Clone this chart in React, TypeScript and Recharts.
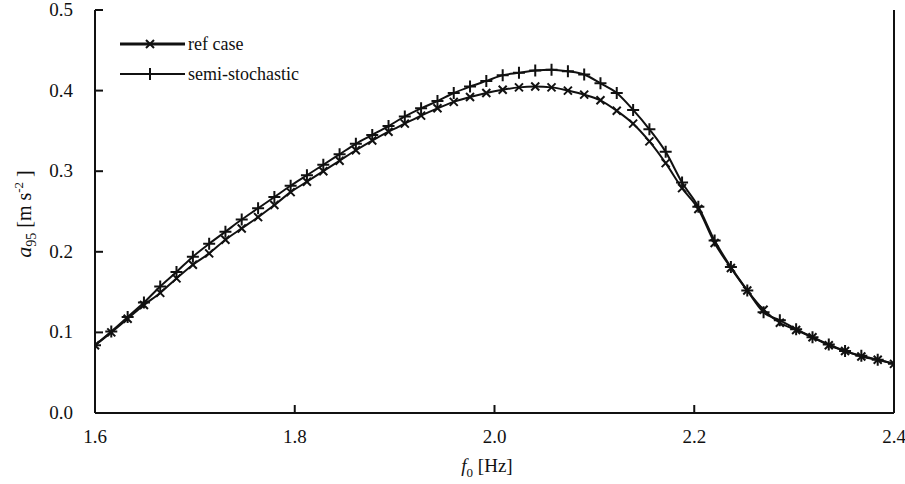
import React from 'react';
import { LineChart, Line, XAxis, YAxis, Label } from 'recharts';

// f0 grid [Hz], 50 steps between 1.6 and 2.4
const freqs = [
  1.6, 1.6163, 1.6327, 1.649, 1.6653, 1.6816, 1.698, 1.7143, 1.7306, 1.7469,
  1.7633, 1.7796, 1.7959, 1.8122, 1.8286, 1.8449, 1.8612, 1.8776, 1.8939, 1.9102,
  1.9265, 1.9429, 1.9592, 1.9755, 1.9918, 2.0082, 2.0245, 2.0408, 2.0571, 2.0735,
  2.0898, 2.1061, 2.1224, 2.1388, 2.1551, 2.1714, 2.1878, 2.2041, 2.2204, 2.2367,
  2.2531, 2.2694, 2.2857, 2.302, 2.3184, 2.3347, 2.351, 2.3673, 2.3837, 2.4,
];

// a95 [m s^-2]
const refCase = [
  0.084, 0.1, 0.117, 0.134, 0.149, 0.167, 0.184, 0.198, 0.215, 0.229,
  0.243, 0.258, 0.274, 0.287, 0.3, 0.313, 0.326, 0.338, 0.349, 0.359,
  0.369, 0.378, 0.386, 0.392, 0.397, 0.401, 0.404, 0.405, 0.404, 0.4,
  0.395, 0.388, 0.375, 0.359, 0.337, 0.31, 0.279, 0.253, 0.211, 0.18,
  0.152, 0.128, 0.112, 0.103, 0.094, 0.084, 0.077, 0.07, 0.066, 0.061,
];

const semiStochastic = [
  0.084, 0.101, 0.119, 0.137, 0.157, 0.175, 0.194, 0.21, 0.225, 0.24,
  0.254, 0.268, 0.282, 0.295, 0.308, 0.321, 0.334, 0.345, 0.356, 0.368,
  0.378, 0.387, 0.397, 0.405, 0.412, 0.419, 0.422, 0.425, 0.426, 0.424,
  0.42, 0.409, 0.397, 0.376, 0.352, 0.324, 0.286, 0.256, 0.214, 0.181,
  0.152, 0.125, 0.115, 0.104, 0.094, 0.085, 0.077, 0.071, 0.066, 0.061,
];

const xTicks = [1.6, 1.8, 2.0, 2.2, 2.4];
const yTicks = [0, 0.1, 0.2, 0.3, 0.4, 0.5];

const data = freqs.map((f, i) => ({ f, ref: refCase[i], semi: semiStochastic[i] }));

const FONT = '"Liberation Serif", "DejaVu Serif", serif';
const INK = '#111';

const CrossDot = (props: any) => {
  const { cx, cy, index } = props;
  if (cx == null || cy == null) return <g key={`x${index}`} />;
  const s = 4;
  return (
    <path
      key={`x${index}`}
      d={`M${cx - s},${cy - s}L${cx + s},${cy + s}M${cx - s},${cy + s}L${cx + s},${cy - s}`}
      stroke={INK}
      strokeWidth={2}
      fill="none"
    />
  );
};

const PlusDot = (props: any) => {
  const { cx, cy, index } = props;
  if (cx == null || cy == null) return <g key={`p${index}`} />;
  const s = 6;
  return (
    <path
      key={`p${index}`}
      d={`M${cx - s},${cy}L${cx + s},${cy}M${cx},${cy - s}L${cx},${cy + s}`}
      stroke={INK}
      strokeWidth={2}
      fill="none"
    />
  );
};

const BottomTick = (props: any) => {
  const { x, y, payload } = props;
  return (
    <g>
      <line x1={x} y1={y} x2={x} y2={y - 8} stroke={INK} strokeWidth={2} />
      <text x={x} y={y + 30} textAnchor="middle" fontFamily={FONT} fontSize={19} fill={INK}>
        {Number(payload.value).toFixed(1)}
      </text>
    </g>
  );
};

const LeftTick = (props: any) => {
  const { x, y, payload } = props;
  return (
    <g>
      <line x1={x} y1={y} x2={x + 8} y2={y} stroke={INK} strokeWidth={2} />
      <text x={x - 22} y={y + 6} textAnchor="end" fontFamily={FONT} fontSize={19} fill={INK}>
        {Number(payload.value).toFixed(1)}
      </text>
    </g>
  );
};

const RightTick = (props: any) => {
  const { x, y } = props;
  return <line x1={x} y1={y} x2={x - 8} y2={y} stroke={INK} strokeWidth={2} />;
};

const XLabel = () => (
  <text x={487} y={472} textAnchor="middle" fontFamily={FONT} fontSize={19} fill={INK}>
    <tspan fontStyle="italic">f</tspan>
    <tspan dy={5} fontSize={13}>0</tspan>
    <tspan dy={-5}> [Hz]</tspan>
  </text>
);

const YLabel = () => (
  <text
    x={0}
    y={0}
    transform="translate(31,214) rotate(-90)"
    textAnchor="middle"
    fontFamily={FONT}
    fontSize={20}
    fill={INK}
  >
    <tspan fontStyle="italic" fontSize={22}>a</tspan>
    <tspan dy={5} fontSize={14}>95</tspan>
    <tspan dy={-5}> [m s</tspan>
    <tspan dy={-8} fontSize={13}>-2</tspan>
    <tspan dy={8}> ]</tspan>
  </text>
);

const LegendBox = () => (
  <svg width={260} height={64} style={{ display: 'block' }}>
    <line x1={10} y1={16} x2={75} y2={16} stroke={INK} strokeWidth={3} />
    <path d="M36,12L44,20M36,20L44,12" stroke={INK} strokeWidth={2} />
    <text x={78} y={22} fontFamily={FONT} fontSize={18} fill={INK}>ref case</text>
    <line x1={10} y1={46} x2={75} y2={46} stroke={INK} strokeWidth={2} />
    <path d="M34,46L46,46M40,40L40,52" stroke={INK} strokeWidth={2} />
    <text x={78} y={52} fontFamily={FONT} fontSize={18} fill={INK}>semi-stochastic</text>
  </svg>
);

export default function App() {
  return (
    <div style={{ position: 'absolute', left: 0, top: 0, width: 905, height: 484, background: '#fff' }}>
      <LineChart width={905} height={484} data={data} margin={{ top: 10, right: 0, bottom: 0, left: 0 }}>
        <XAxis
          dataKey="f"
          type="number"
          domain={[1.6, 2.4]}
          ticks={xTicks}
          interval={0}
          height={71}
          tickSize={0}
          tickMargin={0}
          tickLine={false}
          tick={<BottomTick />}
          axisLine={{ stroke: INK, strokeWidth: 2 }}
          allowDataOverflow
        >
          <Label content={<XLabel />} />
        </XAxis>
        <XAxis
          xAxisId="top"
          orientation="top"
          dataKey="f"
          type="number"
          domain={[1.6, 2.4]}
          height={0}
          tick={false}
          tickLine={false}
          axisLine={{ stroke: INK, strokeWidth: 2 }}
        />
        <YAxis
          type="number"
          domain={[0, 0.5]}
          ticks={yTicks}
          interval={0}
          width={95}
          tickSize={0}
          tickMargin={0}
          tickLine={false}
          tick={<LeftTick />}
          axisLine={{ stroke: INK, strokeWidth: 2 }}
          allowDataOverflow
        >
          <Label content={<YLabel />} />
        </YAxis>
        <YAxis
          yAxisId="right"
          orientation="right"
          type="number"
          domain={[0, 0.5]}
          ticks={yTicks}
          interval={0}
          width={11}
          tickSize={0}
          tickMargin={0}
          tickLine={false}
          tick={<RightTick />}
          axisLine={{ stroke: INK, strokeWidth: 2 }}
        />
        <Line
          dataKey="ref"
          name="ref case"
          type="monotone"
          stroke={INK}
          strokeWidth={2}
          dot={CrossDot}
          activeDot={false}
          isAnimationActive={false}
        />
        <Line
          dataKey="semi"
          name="semi-stochastic"
          type="monotone"
          stroke={INK}
          strokeWidth={2}
          dot={PlusDot}
          activeDot={false}
          isAnimationActive={false}
        />
      </LineChart>
      <div style={{ position: 'absolute', left: 110, top: 28 }}>
        <LegendBox />
      </div>
    </div>
  );
}
